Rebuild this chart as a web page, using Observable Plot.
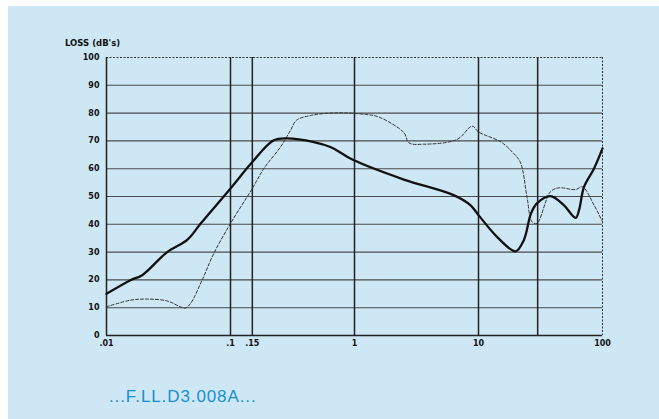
<!DOCTYPE html>
<html>
<head>
<meta charset="utf-8">
<script src="https://cdn.jsdelivr.net/npm/d3@7"></script>
<script src="https://cdn.jsdelivr.net/npm/@observablehq/plot@0.6"></script>
<style>
  html, body { margin: 0; padding: 0; background: #ffffff; }
  #bg { position: absolute; left: 8px; top: 6px; width: 651px; height: 413px; background: #cde7f5; }
  #chart { position: absolute; left: 0; top: 0; }
  #caption { position: absolute; left: 109px; top: 388px; font-family: "Liberation Sans", Arial, sans-serif;
    font-size: 17px; line-height: 17px; letter-spacing: 0.9px; color: #1a8fd0; white-space: nowrap; }
  #ylabel { position: absolute; left: 65px; top: 39px; font-family: "DejaVu Sans", sans-serif; font-weight: bold;
    font-size: 8.5px; line-height: 8.5px; color: #111; white-space: nowrap; }
</style>
</head>
<body>
<div id="bg"></div>
<div id="chart"></div>
<div id="ylabel">LOSS (dB's)</div>
<div id="caption">...F.LL.D3.008A...</div>
<script>
// Tick values and labels
const xTicks = [0.01, 0.1, 0.15, 1, 10, 30, 100];
const xTickLabels = [".01", ".1", ".15", "1", "10", "30", "100"];
const yTicks = [0, 10, 20, 30, 40, 50, 60, 70, 80, 90, 100];

// Solid curve (thick)
const solidX = [0.01, 0.0156, 0.0194, 0.031, 0.045, 0.0575, 0.1, 0.15, 0.223, 0.284, 0.47, 0.64, 0.98, 2.5, 6.3, 8.6, 10, 14.1, 19.9, 23.2, 26.5, 29.6, 38, 48.7, 60.8, 64.7, 71, 85.5, 100];
const solidY = [15, 19.9, 21.7, 30.1, 34.5, 40.3, 52.9, 62.4, 70.2, 70.9, 69.6, 67.8, 63.1, 56.1, 50.5, 46.9, 43.3, 35.5, 30.3, 34.3, 43.9, 47.5, 50.1, 46.9, 42.3, 45.1, 53.5, 60.1, 67.3];

// Dashed curve (thin)
const dashX = [0.01, 0.0156, 0.0213, 0.031, 0.0395, 0.0433, 0.0476, 0.059, 0.0733, 0.1, 0.15, 0.186, 0.253, 0.305, 0.34, 0.45, 0.72, 1.24, 1.57, 2.5, 2.75, 3.6, 6.7, 8.9, 10, 15.2, 18.7, 21.7, 24.6, 27, 29.6, 38, 44.4, 60.8, 68.9, 85.5, 100];
const dashY = [10.3, 12.7, 13.1, 12.4, 10.3, 9.9, 11.5, 19.9, 29.5, 40.3, 52.9, 60.1, 67.8, 73.8, 77.4, 79.2, 80.1, 79.5, 78.6, 73, 69.3, 68.8, 70.5, 75.3, 73.2, 69.6, 66, 62.4, 49.9, 40.9, 40.3, 51.7, 53.1, 52.5, 53.5, 46.9, 40.9];

const solid = solidX.map((x, i) => ({x, y: solidY[i]}));
const dashed = dashX.map((x, i) => ({x, y: dashY[i]}));
const labelOf = new Map(xTicks.map((t, i) => [t, xTickLabels[i]]));

const chart = Plot.plot({
  width: 659,
  height: 360,
  marginLeft: 106,
  marginRight: 57,
  marginTop: 57,
  marginBottom: 25,
  style: { background: "transparent", fontFamily: "DejaVu Sans, sans-serif", fontSize: "8px", fontWeight: "bold", color: "#111" },
  x: { type: "log", domain: [0.01, 100], ticks: xTicks, tickFormat: d => labelOf.get(d), tickSize: 0, tickPadding: 5, label: null },
  y: { domain: [0, 100], ticks: yTicks, tickSize: 0, tickPadding: 7, label: null },
  marks: [
    Plot.ruleY(yTicks.filter(d => d > 0 && d < 100), { stroke: "#4a4a4a", strokeWidth: 1.1 }),
    Plot.ruleY([100], { stroke: "#333", strokeWidth: 1, strokeDasharray: "2,1.5" }),
    Plot.ruleY([0], { stroke: "#222", strokeWidth: 1.6 }),
    Plot.ruleX(xTicks.filter(d => d < 100), { stroke: "#222", strokeWidth: 1.5 }),
    Plot.ruleX([100], { stroke: "#333", strokeWidth: 1, strokeDasharray: "2,1.5" }),
    Plot.line(dashed, { x: "x", y: "y", stroke: "#333", strokeWidth: 1, strokeDasharray: "3,2", curve: "catmull-rom" }),
    Plot.line(solid, { x: "x", y: "y", stroke: "#111", strokeWidth: 2.3, curve: "catmull-rom" })
  ]
});
document.getElementById("chart").appendChild(chart);
</script>
</body>
</html>
